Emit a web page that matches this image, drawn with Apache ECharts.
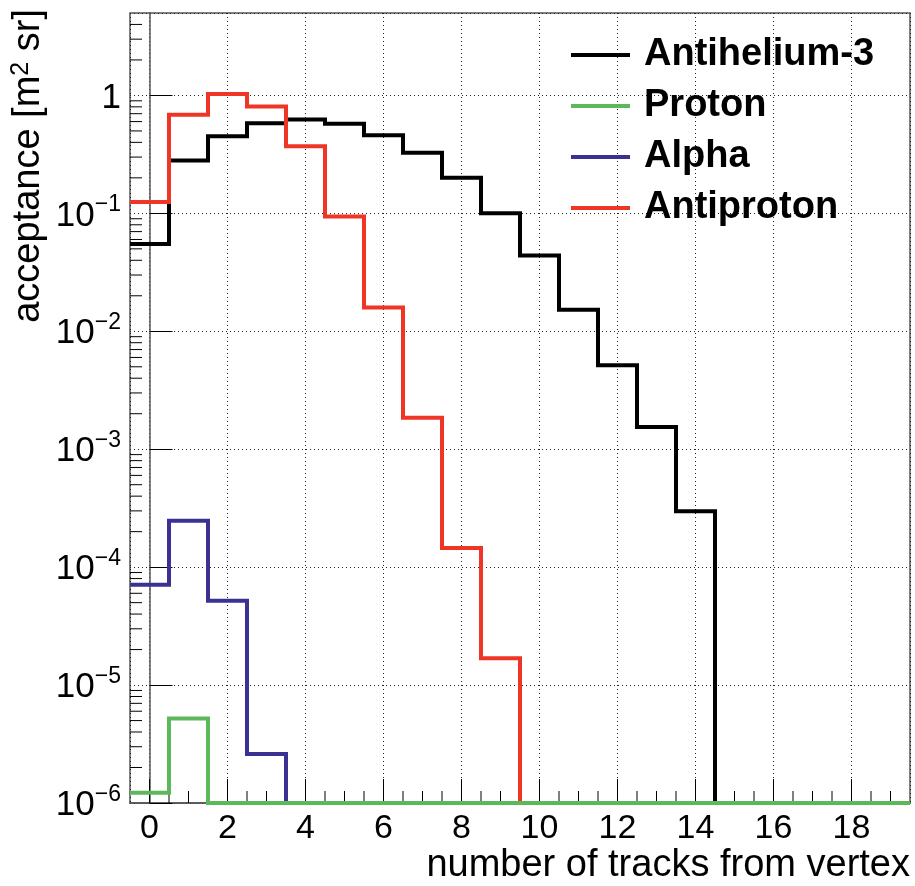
<!DOCTYPE html>
<html>
<head>
<meta charset="utf-8">
<script src="https://cdn.jsdelivr.net/npm/echarts@6/dist/echarts.min.js"></script>
<style>
  html, body { margin: 0; padding: 0; background: #fff; }
  #chart { width: 915px; height: 886px; }
</style>
</head>
<body>
<div id="chart"></div>
<script>
// Bin centres: number of tracks from vertex (0 .. 19)
const trackBins = [0, 1, 2, 3, 4, 5, 6, 7, 8, 9, 10, 11, 12, 13, 14, 15, 16, 17, 18, 19];

// Acceptance [m^2 sr] per bin for each particle species
const antihelium3 = [0.055, 0.28, 0.45, 0.58, 0.625, 0.575, 0.46, 0.326, 0.20, 0.10,
                     0.044, 0.0152, 0.00515, 0.00154, 0.000298, 0, 0, 0, 0, 0];
const proton      = [1.22e-6, 5.2e-6, 0, 0, 0, 0, 0, 0, 0, 0,
                     0, 0, 0, 0, 0, 0, 0, 0, 0, 0];
const alpha       = [7.1e-5, 2.48e-4, 5.2e-5, 2.6e-6, 0, 0, 0, 0, 0, 0,
                     0, 0, 0, 0, 0, 0, 0, 0, 0, 0];
const antiproton  = [0.125, 0.686, 1.03, 0.806, 0.37, 0.094, 0.0159, 0.00185, 1.45e-4, 1.69e-5,
                     0, 0, 0, 0, 0, 0, 0, 0, 0, 0];

const seriesNames = ['Antihelium-3', 'Proton', 'Alpha', 'Antiproton'];
const seriesColors = ['#000000', '#5cb85a', '#3a3193', '#ee3526'];

// Axis ranges
const X_MIN = -0.5, X_MAX = 19.5;
const Y_MIN = 1e-6, Y_MAX = 5;

const FONT = 'Liberation Sans, Arial, Helvetica, sans-serif';

// Histogram outline: each bin becomes a flat segment across its width.
// Empty bins sit on the bottom of the frame, as on a log axis.
function histogramOutline(values) {
  const pts = [];
  values.forEach((v, i) => {
    const y = v > 0 ? v : Y_MIN;
    const c = trackBins[i];
    pts.push([c - 0.5, y], [c + 0.5, y]);
  });
  return pts;
}

// Minor tick positions
const yMinorTicks = [];
for (let d = -6; d <= 0; d++) {
  for (let m = 2; m <= 9; m++) {
    const v = m * Math.pow(10, d);
    if (v < Y_MAX) yMinorTicks.push([X_MIN, v]);
  }
}
const xMinorTicks = [];
for (let v = 0.5; v < X_MAX; v += 0.5) {
  if (v % 2 !== 0) xMinorTicks.push([v, Y_MIN]);
}

const chart = echarts.init(document.getElementById('chart'), null, { renderer: 'canvas' });

const histSeries = [antihelium3, proton, alpha, antiproton].map((vals, k) => ({
  name: seriesNames[k],
  type: 'line',
  data: histogramOutline(vals),
  showSymbol: false,
  symbol: 'none',
  clip: false,
  z: k === 1 ? 4 : 3,
  color: seriesColors[k],
  lineStyle: { color: seriesColors[k], width: 4, join: 'miter', cap: 'butt' },
  emphasis: { disabled: true },
  animation: false
}));

const option = {
  backgroundColor: '#ffffff',
  animation: false,
  grid: {
    left: 130, right: 5, top: 13, bottom: 83,
    show: true, borderColor: '#555', borderWidth: 1.5, backgroundColor: 'transparent'
  },
  legend: {
    orient: 'vertical',
    left: 571, top: 35,
    padding: 0,
    itemWidth: 59, itemHeight: 4,
    itemGap: 11,
    icon: 'rect',
    selectedMode: false,
    data: seriesNames,
    textStyle: {
      fontFamily: FONT, fontSize: 38, fontWeight: 'bold', color: '#000',
      lineHeight: 40, padding: [0, 0, 0, 9]
    }
  },
  xAxis: {
    type: 'value',
    min: X_MIN, max: X_MAX,
    splitNumber: 10,
    axisLine: { show: true, lineStyle: { color: '#555', width: 1.5 } },
    axisTick: { show: true, inside: true, length: 24, lineStyle: { color: '#000', width: 1 } },
    axisLabel: {
      fontFamily: FONT, fontSize: 34, color: '#000', margin: 9,
      showMinLabel: false, showMaxLabel: false
    },
    splitLine: { show: true, lineStyle: { color: '#222', width: 1, type: [1, 3] } }
  },
  yAxis: {
    type: 'log',
    logBase: 10,
    min: Y_MIN, max: Y_MAX,
    axisLine: { show: true, lineStyle: { color: '#555', width: 1.5 } },
    axisTick: { show: true, inside: true, length: 23, lineStyle: { color: '#000', width: 1 } },
    axisLabel: {
      margin: 9,
      showMaxLabel: false,
      formatter: function (v) {
        const e = Math.round(Math.log10(v));
        if (e === 0) return '{b|1}';
        return '{b|10}{s|\u2212' + (-e) + '}';
      },
      rich: {
        b: { fontFamily: FONT, fontSize: 35, color: '#000', lineHeight: 40, verticalAlign: 'bottom' },
        s: { fontFamily: FONT, fontSize: 23, color: '#000', lineHeight: 18, verticalAlign: 'top' }
      }
    },
    splitLine: { show: true, lineStyle: { color: '#222', width: 1, type: [1, 3] } }
  },
  graphic: [
    {
      type: 'text',
      x: 29, y: 9,
      rotation: Math.PI / 2,
      style: {
        text: 'acceptance [m{sup|2} sr]',
        fontFamily: FONT, fontSize: 38, fill: '#000',
        align: 'right', verticalAlign: 'middle',
        rich: {
          sup: { fontFamily: FONT, fontSize: 25, fill: '#000', padding: [0, 0, 16, 0] }
        }
      }
    },
    {
      type: 'text',
      x: 910, y: 885,
      style: {
        text: 'number of tracks from vertex',
        fontFamily: FONT, fontSize: 38, fill: '#000',
        align: 'right', verticalAlign: 'bottom'
      }
    }
  ],
  series: histSeries.concat([
    {
      name: 'yMinorTicks',
      type: 'custom',
      silent: true,
      z: 2,
      data: yMinorTicks,
      renderItem: function (params, api) {
        const p = api.coord([api.value(0), api.value(1)]);
        return {
          type: 'line',
          shape: { x1: p[0], y1: p[1], x2: p[0] + 12, y2: p[1] },
          style: { stroke: '#000', lineWidth: 1 }
        };
      }
    },
    {
      name: 'xMinorTicks',
      type: 'custom',
      silent: true,
      z: 2,
      data: xMinorTicks,
      renderItem: function (params, api) {
        const p = api.coord([api.value(0), api.value(1)]);
        return {
          type: 'line',
          shape: { x1: p[0], y1: p[1], x2: p[0], y2: p[1] - 12 },
          style: { stroke: '#000', lineWidth: 1 }
        };
      }
    }
  ])
};

chart.setOption(option);
</script>
</body>
</html>
